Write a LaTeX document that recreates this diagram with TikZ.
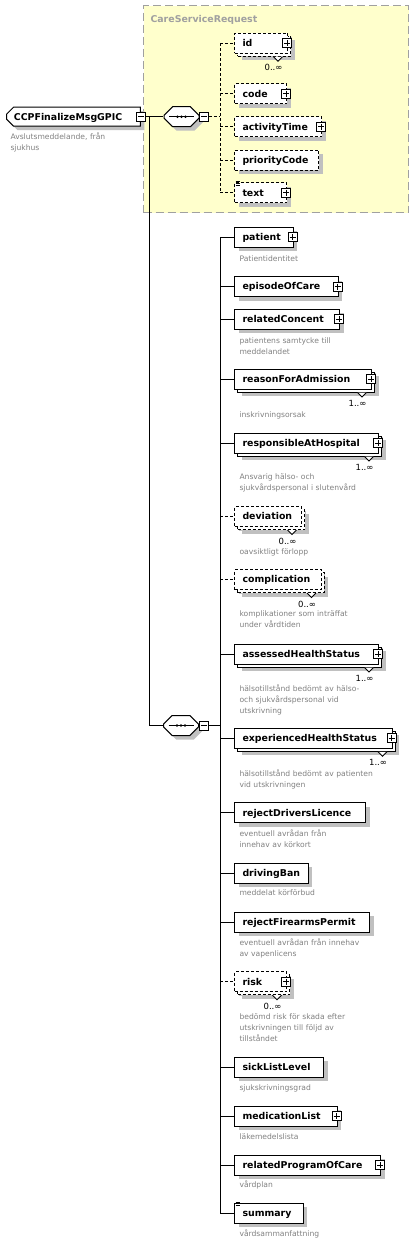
\documentclass[tikz,border=0pt]{standalone}
\usepackage{fontspec}
\setmainfont{DejaVu Sans}
\usepackage{tikz}
\usetikzlibrary{shapes.misc,shadows}

\definecolor{grpfill}{RGB}{255,255,204}
\definecolor{grpline}{RGB}{160,160,160}
\definecolor{desctext}{RGB}{128,128,128}
\definecolor{shadowgray}{RGB}{192,192,192}

\begin{document}
\begin{tikzpicture}[x=1pt,y=-1pt,line width=1pt,
    every node/.style={font=\fontsize{9.4}{11}\selectfont\bfseries},
    boxshadow/.style={drop shadow={shadow xshift=4pt,shadow yshift=-4pt,fill=shadowgray,draw=none,opacity=1}},
    many/.style={drop shadow={shadow xshift=7pt,shadow yshift=-7pt,fill=shadowgray,draw=none,opacity=1},
      copy shadow={shadow xshift=3pt,shadow yshift=-3pt,fill=white,draw=black,#1}},
    many/.default=solid,
    opt/.style={dash pattern=on 3pt off 2pt},
    elem/.style={draw,fill=white,boxshadow,anchor=west,minimum height=20pt,inner xsep=8pt,
      inner ysep=0pt,text width=#1,align=left,text height=6.8pt,text depth=0pt},
    plusbox/.style={draw,fill=white,solid,minimum size=9pt,inner sep=0pt,line width=0.8pt,
      path picture={\draw[line width=0.8pt]
        ([xshift=1.5pt]path picture bounding box.west) -- ([xshift=-1.5pt]path picture bounding box.east)
        ([yshift=-1.5pt]path picture bounding box.north) -- ([yshift=1.5pt]path picture bounding box.south);}},
    minusbox/.style={draw,fill=white,solid,minimum size=9pt,inner sep=0pt,line width=0.8pt,
      path picture={\draw[line width=0.8pt]
        ([xshift=1.5pt]path picture bounding box.west) -- ([xshift=-1.5pt]path picture bounding box.east);}},
    seq/.style={chamfered rectangle,chamfered rectangle xsep=5pt,chamfered rectangle angle=45,
      draw,fill=white,boxshadow,minimum width=35pt,minimum height=20pt,inner xsep=12.5pt,inner ysep=5pt},
    desc/.style={anchor=base west,text width=170pt,align=left,inner sep=0pt,text=desctext,
      font=\fontsize{7.6}{11}\selectfont},
    mult/.style={anchor=east,inner sep=0pt,font=\fontsize{8.5}{10}\selectfont}]
  \useasboundingbox (0,0) rectangle (413,1245);

  \node[draw=grpline,fill=grpfill,dash pattern=on 8pt off 4pt,anchor=north west,
    minimum width=265pt,minimum height=207pt] (grp) at (143,5) {};
  \node[anchor=base west,text=grpline,inner sep=0pt] (grpname) at (150,22.5) {CareServiceRequest};

  \node[chamfered rectangle,chamfered rectangle corners={north west,south west},
    chamfered rectangle xsep=4pt,draw,fill=white,boxshadow,anchor=west,minimum height=19pt,
    inner xsep=4pt,inner ysep=0pt,text width=119pt,text height=6.8pt,text depth=0pt]
    (root) at (6,116.7) {CCPFinalizeMsgGPIC};
  \node[minusbox] (rootx) at (root.east) {};
  \node[desc] (rootd) at (10,139.8) {Avslutsmeddelande, från\\sjukhus};

  \node[seq] (seqA) at (181.5,116.7) {};
  \node[minusbox] (seqAx) at ([xshift=4.5pt]seqA.east) {};
  \node[seq] (seqB) at (181,725.5) {};
  \node[minusbox] (seqBx) at ([xshift=4.5pt]seqB.east) {};
  \foreach \s in {seqA,seqB} {
    \draw ([xshift=-12.5pt]\s.center) -- ([xshift=12.5pt]\s.center);
    \foreach \d in {-4,0,4}
      \fill ([xshift=\d pt]\s.center) circle (1.3pt);
  }

  \node[elem=37pt,opt,many=opt] (id) at (234,43.3) {id};
  \node[elem=36pt,opt] (code) at (234,93.7) {code};
  \node[elem=71pt,opt] (activityTime) at (234,126.7) {activityTime};
  \node[elem=68pt,opt] (priorityCode) at (234,160) {priorityCode};
  \node[elem=36pt,opt] (text) at (234,192.7) {text};

  \node[elem=42.5pt] (patient) at (234,237) {patient};
  \node[elem=87.5pt] (episodeOfCare) at (234,286.5) {episodeOfCare};
  \node[elem=89pt] (relatedConcent) at (234,319) {relatedConcent};
  \node[elem=121pt,many] (reasonForAdmission) at (234,379) {reasonForAdmission};
  \node[elem=128pt,many] (responsibleAtHospital) at (234,443) {responsibleAtHospital};
  \node[elem=51pt,opt,many=opt] (deviation) at (234,516.5) {deviation};
  \node[elem=70.5pt,opt,many=opt] (complication) at (234,579.5) {complication};
  \node[elem=128pt,many] (assessedHealthStatus) at (234,654) {assessedHealthStatus};
  \node[elem=141.5pt,many] (experiencedHealthStatus) at (234,738.3) {experiencedHealthStatus};
  \node[elem=115pt] (rejectDriversLicence) at (234,812.7) {rejectDriversLicence};
  \node[elem=57.5pt] (drivingBan) at (234,873) {drivingBan};
  \node[elem=119pt] (rejectFirearmsPermit) at (234,922) {rejectFirearmsPermit};
  \node[elem=36pt,opt,many=opt] (risk) at (234,981.7) {risk};
  \node[elem=73pt] (sickListLevel) at (234,1067) {sickListLevel};
  \node[elem=86.5pt] (medicationList) at (234,1116) {medicationList};
  \node[elem=130pt] (relatedProgramOfCare) at (234,1165) {relatedProgramOfCare};
  \node[elem=52.5pt] (summary) at (234,1213) {summary};

  \foreach \e in {id,code,activityTime,text,patient,episodeOfCare,relatedConcent,
      reasonForAdmission,responsibleAtHospital,assessedHealthStatus,experiencedHealthStatus,
      risk,medicationList,relatedProgramOfCare}
    \node[plusbox] (\e-plus) at ([xshift=-1pt]\e.east) {};

  \foreach \e in {text,summary}
    \foreach \d in {0.5,-1.2,-2.9}
      \draw[line width=0.7pt] ([xshift=1.5pt,yshift=\d pt]\e.north west) -- ++(4.5,0);

  \foreach \e/\m in {id/0,reasonForAdmission/1,responsibleAtHospital/1,deviation/0,
      complication/0,assessedHealthStatus/1,experiencedHealthStatus/1,risk/0} {
    \draw[fill=white,solid,line width=0.8pt] ([xshift=-14.5pt,yshift=-3pt]\e.south east)
      -- ++(4.5,4.5) -- ++(4.5,-4.5);
    \node[mult] (\e-mult) at ([xshift=-5pt,yshift=-14pt]\e.south east) {\m..∞};
  }

  \node[desc] (patientd) at (239,261.8) {Patientidentitet};
  \node[desc] (relatedConcentd) at (239,343.8) {patientens samtycke till\\meddelandet};
  \node[desc] (reasonForAdmissiond) at (239,417.8) {inskrivningsorsak};
  \node[desc] (responsibleAtHospitald) at (239,479.8) {Ansvarig hälso- och\\sjukvårdspersonal i slutenvård};
  \node[desc] (deviationd) at (239,554.8) {oavsiktligt förlopp};
  \node[desc] (complicationd) at (239,616.8) {komplikationer som inträffat\\under vårdtiden};
  \node[desc] (assessedHealthStatusd) at (239,691.8) {hälsotillstånd bedömt av hälso-\\och sjukvårdspersonal vid\\utskrivning};
  \node[desc] (experiencedHealthStatusd) at (239,776.8) {hälsotillstånd bedömt av patienten\\vid utskrivningen};
  \node[desc] (rejectDriversLicenced) at (239,836.8) {eventuell avrådan från\\innehav av körkort};
  \node[desc] (drivingBand) at (239,895.8) {meddelat körförbud};
  \node[desc] (rejectFirearmsPermitd) at (239,945.8) {eventuell avrådan från innehav\\av vapenlicens};
  \node[desc] (riskd) at (239,1019.8) {bedömd risk för skada efter\\utskrivningen till följd av\\tillståndet};
  \node[desc] (sickListLeveld) at (239,1090.8) {sjukskrivningsgrad};
  \node[desc] (medicationListd) at (239,1139.8) {läkemedelslista};
  \node[desc] (relatedProgramOfCared) at (239,1187.8) {vårdplan};
  \node[desc] (summaryd) at (239,1236.8) {vårdsammanfattning};

  \coordinate (split) at (149,116.7);
  \coordinate (busA) at (220,116.7);
  \coordinate (busB) at (220,725.5);
  \draw (rootx) -- (seqA);
  \draw (split) |- (seqB);

  \draw[opt] (seqAx) -- (busA);
  \draw[opt] (busA |- id) -- (busA |- text);
  \foreach \e in {id,code,activityTime,priorityCode,text}
    \draw[opt] (busA |- \e) -- (\e);

  \draw (seqBx) -- (busB);
  \draw (busB |- patient) -- (busB |- summary);
  \foreach \e in {patient,episodeOfCare,relatedConcent,reasonForAdmission,responsibleAtHospital,
      assessedHealthStatus,experiencedHealthStatus,rejectDriversLicence,drivingBan,
      rejectFirearmsPermit,sickListLevel,medicationList,relatedProgramOfCare,summary}
    \draw (busB |- \e) -- (\e);
  \foreach \e in {deviation,complication,risk}
    \draw[opt] (busB |- \e) -- (\e);
\end{tikzpicture}
\end{document}
